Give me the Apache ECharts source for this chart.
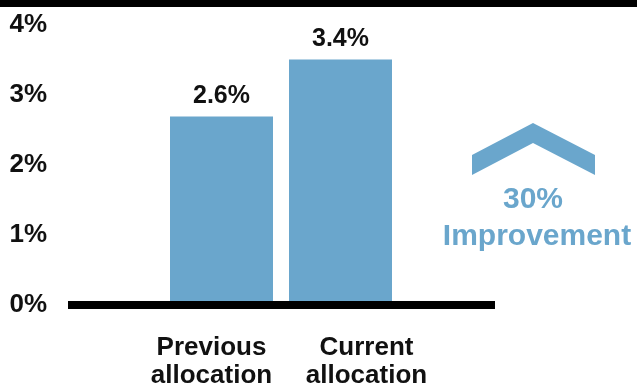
<!DOCTYPE html>
<html>
<head>
<meta charset="utf-8">
<script src="https://cdn.jsdelivr.net/npm/echarts@6/dist/echarts.min.js"></script>
<style>
  html, body { margin: 0; padding: 0; background: #ffffff; }
  #chart { width: 637px; height: 387px; }
</style>
</head>
<body>
<div id="chart"></div>
<script>
// data
const categories = ['Previous\nallocation', 'Current\nallocation']
const rates = [2.6, 3.4]
const yMin = 0
const yMax = 4
const yStep = 1
const improvementText = ['30%', 'Improvement']

const barColor = '#6aa6cc'
const font = 'Liberation Sans, Arial, sans-serif'

const chart = echarts.init(document.getElementById('chart'))

const option = {
  animation: false,
  backgroundColor: '#ffffff',
  grid: [
    // bars
    { left: 162, width: 238, top: 17, height: 284, outerBoundsMode: 'none' },
    // category labels
    { left: 134, width: 310, top: 25, height: 280, outerBoundsMode: 'none' },
    // baseline + y labels
    { left: 68, width: 427, top: 25, height: 280, outerBoundsMode: 'none' }
  ],
  xAxis: [
    {
      gridIndex: 0,
      type: 'category',
      data: categories,
      axisLine: { show: false },
      axisTick: { show: false },
      axisLabel: { show: false }
    },
    {
      gridIndex: 1,
      type: 'category',
      data: categories,
      axisLine: { show: false },
      axisTick: { show: false },
      axisLabel: {
        interval: 0,
        hideOverlap: false,
        margin: 29,
        color: '#111111',
        fontFamily: font,
        fontWeight: 'bold',
        fontSize: 26,
        lineHeight: 28
      }
    },
    {
      gridIndex: 2,
      type: 'value',
      min: 0,
      max: 1,
      splitLine: { show: false },
      axisTick: { show: false },
      axisLabel: { show: false },
      axisLine: { show: true, lineStyle: { color: '#000000', width: 8, cap: 'butt' } }
    }
  ],
  yAxis: [
    {
      gridIndex: 0,
      type: 'value',
      min: yMin,
      max: yMax,
      interval: yStep,
      show: false,
      splitLine: { show: false }
    },
    {
      gridIndex: 1,
      type: 'value',
      min: yMin,
      max: yMax,
      show: false,
      splitLine: { show: false }
    },
    {
      gridIndex: 2,
      type: 'value',
      min: yMin,
      max: yMax,
      interval: yStep,
      splitLine: { show: false },
      axisLine: { show: false },
      axisTick: { show: false },
      axisLabel: {
        margin: 21,
        formatter: '{value}%',
        color: '#111111',
        fontFamily: font,
        fontWeight: 'bold',
        fontSize: 26
      }
    }
  ],
  series: [
    {
      type: 'bar',
      xAxisIndex: 0,
      yAxisIndex: 0,
      data: rates,
      barWidth: 103,
      itemStyle: { color: barColor },
      label: {
        show: true,
        position: 'top',
        distance: 8,
        formatter: p => p.value.toFixed(1) + '%',
        color: '#111111',
        fontFamily: font,
        fontWeight: 'bold',
        fontSize: 25
      }
    }
  ],
  graphic: [
    // black band at the top
    {
      type: 'rect',
      shape: { x: 0, y: 0, width: 637, height: 7 },
      style: { fill: '#000000' }
    },
    // up chevron
    {
      type: 'polygon',
      shape: {
        points: [[472, 155], [533, 123], [595, 155], [595, 175], [533, 143], [472, 175]]
      },
      style: { fill: barColor }
    },
    {
      type: 'text',
      x: 533,
      y: 200,
      style: {
        text: improvementText[0],
        fill: barColor,
        font: 'bold 30px ' + font,
        textAlign: 'center',
        textVerticalAlign: 'middle'
      }
    },
    {
      type: 'text',
      x: 537,
      y: 237,
      style: {
        text: improvementText[1],
        fill: barColor,
        font: 'bold 30px ' + font,
        textAlign: 'center',
        textVerticalAlign: 'middle'
      }
    }
  ]
}

chart.setOption(option)
</script>
</body>
</html>
